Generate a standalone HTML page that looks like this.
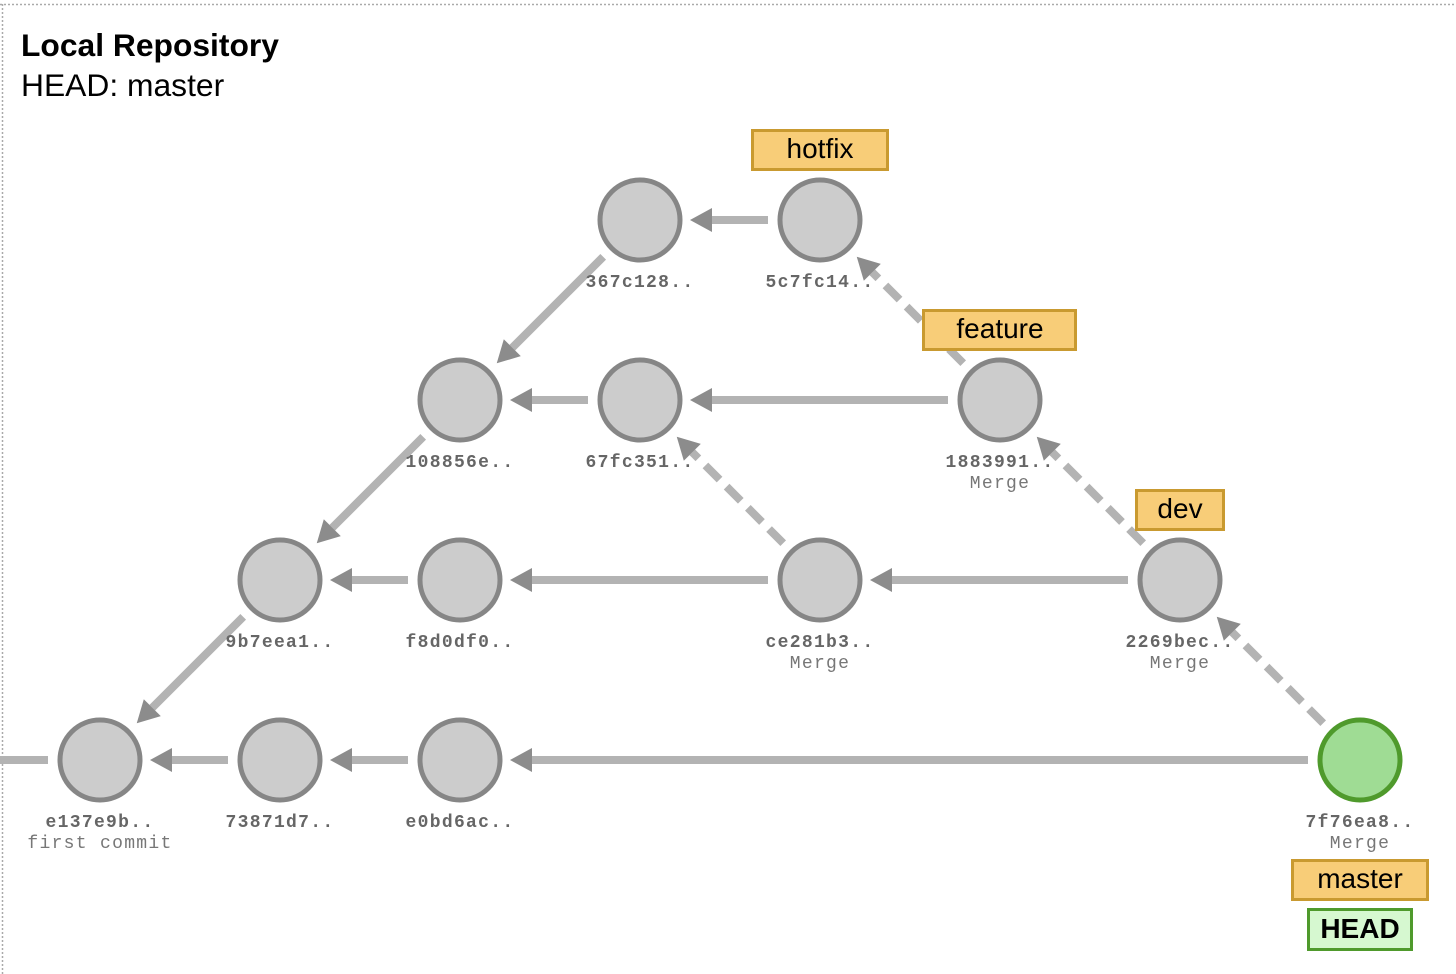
<!DOCTYPE html>
<html><head><meta charset="utf-8"><style>
html,body{margin:0;padding:0;background:#fff}
svg{display:block}
.h{font-family:"Liberation Mono",monospace;font-weight:bold;font-size:18px;letter-spacing:1.3px;fill:#666;text-anchor:middle}
.s{font-family:"Liberation Mono",monospace;font-size:18px;letter-spacing:1.3px;fill:#777;text-anchor:middle}
.b{font-family:"Liberation Sans",sans-serif;font-size:28px;fill:#000;text-anchor:middle}
.e{stroke:#b3b3b3;stroke-width:8;fill:none;marker-end:url(#a)}
.d{stroke-dasharray:20,10}
.n{fill:#cccccc;stroke:#868686;stroke-width:5}
</style></head><body>
<svg width="1456" height="974" viewBox="0 0 1456 974" xmlns="http://www.w3.org/2000/svg">
<defs><marker id="a" markerUnits="userSpaceOnUse" markerWidth="24" markerHeight="26" refX="0" refY="12" orient="auto" overflow="visible"><path d="M0,0 L22,12 L0,24 Z" fill="#666" fill-opacity="0.75"/></marker></defs>
<line x1="0" y1="4.5" x2="1456" y2="4.5" stroke="#aaa" stroke-width="1.5" stroke-dasharray="2,2"/>
<line x1="2.5" y1="4" x2="2.5" y2="974" stroke="#aaa" stroke-width="1.5" stroke-dasharray="2,2"/>
<text x="21" y="56" font-family="Liberation Sans, sans-serif" font-weight="bold" font-size="31.8">Local Repository</text>
<text x="21" y="96" font-family="Liberation Sans, sans-serif" font-size="31.8">HEAD: master</text>

<line class="e" x1="768" y1="220" x2="712" y2="220"/>
<line class="e" x1="948" y1="400" x2="712" y2="400"/>
<line class="e" x1="588" y1="400" x2="532" y2="400"/>
<line class="e" x1="768" y1="580" x2="532" y2="580"/>
<line class="e" x1="408" y1="580" x2="352" y2="580"/>
<line class="e" x1="1128" y1="580" x2="892" y2="580"/>
<line class="e" x1="1308" y1="760" x2="532" y2="760"/>
<line class="e" x1="408" y1="760" x2="352" y2="760"/>
<line class="e" x1="228" y1="760" x2="172" y2="760"/>
<line x1="48" y1="760" x2="0" y2="760" stroke="#b3b3b3" stroke-width="8"/>
<line class="e" x1="603.2" y1="256.8" x2="512.3" y2="347.7"/>
<line class="e" x1="423.2" y1="436.8" x2="332.3" y2="527.7"/>
<line class="e" x1="243.2" y1="616.8" x2="152.3" y2="707.7"/>
<line class="e d" x1="963.2" y1="363.2" x2="872.3" y2="272.3"/>
<line class="e d" x1="783.2" y1="543.2" x2="692.3" y2="452.3"/>
<line class="e d" x1="1143.2" y1="543.2" x2="1052.3" y2="452.3"/>
<line class="e d" x1="1323.2" y1="723.2" x2="1232.3" y2="632.3"/>

<circle class="n" cx="640" cy="220" r="40"/>
<circle class="n" cx="820" cy="220" r="40"/>
<circle class="n" cx="460" cy="400" r="40"/>
<circle class="n" cx="640" cy="400" r="40"/>
<circle class="n" cx="1000" cy="400" r="40"/>
<circle class="n" cx="280" cy="580" r="40"/>
<circle class="n" cx="460" cy="580" r="40"/>
<circle class="n" cx="820" cy="580" r="40"/>
<circle class="n" cx="1180" cy="580" r="40"/>
<circle class="n" cx="100" cy="760" r="40"/>
<circle class="n" cx="280" cy="760" r="40"/>
<circle class="n" cx="460" cy="760" r="40"/>
<circle cx="1360" cy="760" r="40" fill="#9fdc94" stroke="#4f9a2c" stroke-width="5"/>

<text class="h" x="640" y="287">367c128..</text>
<text class="h" x="820" y="287">5c7fc14..</text>
<text class="h" x="460" y="467">108856e..</text>
<text class="h" x="640" y="467">67fc351..</text>
<text class="h" x="1000" y="467">1883991..</text><text class="s" x="1000" y="488">Merge</text>
<text class="h" x="280" y="647">9b7eea1..</text>
<text class="h" x="460" y="647">f8d0df0..</text>
<text class="h" x="820" y="647">ce281b3..</text><text class="s" x="820" y="668">Merge</text>
<text class="h" x="1180" y="647">2269bec..</text><text class="s" x="1180" y="668">Merge</text>
<text class="h" x="100" y="827">e137e9b..</text><text class="s" x="100" y="848">first commit</text>
<text class="h" x="280" y="827">73871d7..</text>
<text class="h" x="460" y="827">e0bd6ac..</text>
<text class="h" x="1360" y="827">7f76ea8..</text><text class="s" x="1360" y="848">Merge</text>

<rect x="752.5" y="130.5" width="135" height="39" fill="#f8cd78" stroke="#c99a30" stroke-width="3"/>
<text class="b" x="820" y="158">hotfix</text>
<rect x="923.5" y="310.5" width="152" height="39" fill="#f8cd78" stroke="#c99a30" stroke-width="3"/>
<text class="b" x="1000" y="338">feature</text>
<rect x="1136.5" y="490.5" width="87" height="39" fill="#f8cd78" stroke="#c99a30" stroke-width="3"/>
<text class="b" x="1180" y="518">dev</text>
<rect x="1292.5" y="860.5" width="135" height="39" fill="#f8cd78" stroke="#c99a30" stroke-width="3"/>
<text class="b" x="1360" y="888">master</text>
<rect x="1308.5" y="909.5" width="103" height="40" fill="#d6f8d0" stroke="#4f9a2c" stroke-width="3"/>
<text class="b" x="1360" y="938" font-weight="bold">HEAD</text>
</svg>
</body></html>
